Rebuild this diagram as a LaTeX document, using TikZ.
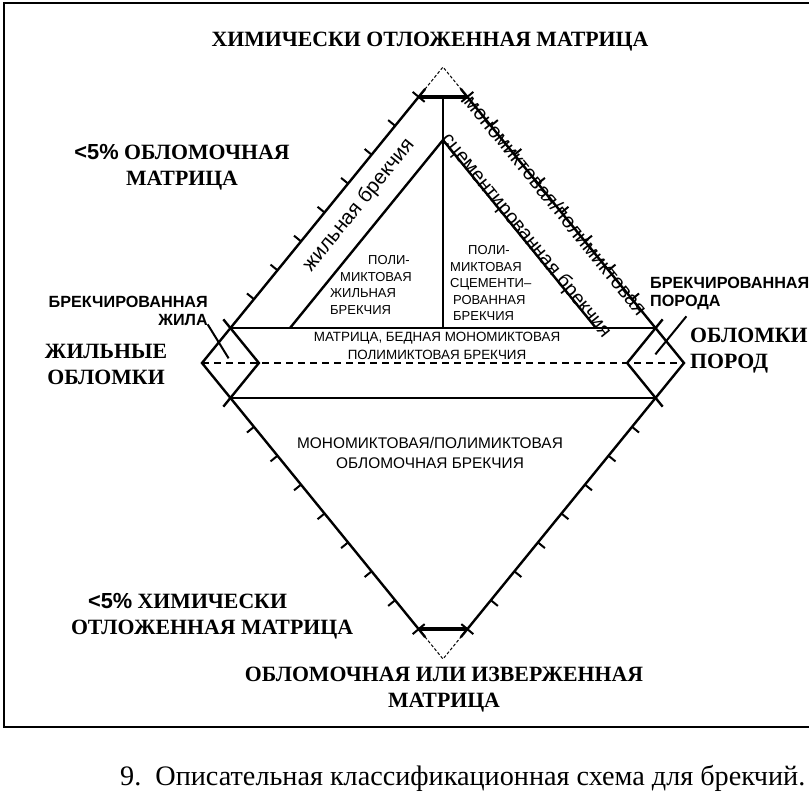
\documentclass[tikz,border=0pt]{standalone}
\usepackage{fontspec}
\setmainfont{Liberation Serif}
\setsansfont{Liberation Sans}
\usetikzlibrary{calc}
\tikzstyle{side}=[line width=2.4pt]
\tikzstyle{tk}=[line width=2pt]
\tikzstyle{apex}=[line width=1pt, dash pattern=on 3pt off 2pt]
\tikzstyle{big}=[font=\fontsize{21.8}{26}\selectfont\bfseries, align=center, inner sep=0]
\tikzstyle{lbl}=[font=\sffamily\bfseries\fontsize{16.2}{18}\selectfont, inner sep=0]
\tikzstyle{small}=[font=\sffamily\fontsize{13}{16.5}\selectfont, inner sep=0]
\tikzstyle{band}=[font=\sffamily\fontsize{20}{22}\selectfont, inner sep=0]

\begin{document}
\begin{tikzpicture}[x=1pt,y=-1pt]
\useasboundingbox (0,0) rectangle (809,804);
\draw[line width=1.2pt] (809,3)--(4,3)--(4,727)--(809,727);
% corners
\coordinate (T) at (443,67);
\coordinate (B) at (443,659);
\coordinate (L) at (202,363);
\coordinate (R) at (684,363);
\coordinate (tl) at ($(T)!0.101!(L)$);
\coordinate (tr) at ($(T)!0.101!(R)$);
\coordinate (bl) at ($(B)!0.101!(L)$);
\coordinate (br) at ($(B)!0.101!(R)$);
\coordinate (ul) at ($(T)!0.882!(L)$);
\coordinate (ur) at ($(T)!0.882!(R)$);
\coordinate (dl) at ($(B)!0.882!(L)$);
\coordinate (dr) at ($(B)!0.882!(R)$);
\coordinate (li) at ($(ul)+(dl)-(L)$);
\coordinate (ri) at ($(ur)+(dr)-(R)$);
\coordinate (m) at (443,140);
\coordinate (ml) at (290,328);
\coordinate (mr) at (596,328);
% outline
\draw[side] ($(tl)!-0.03!(L)$)--(L)--($(bl)!-0.03!(L)$);
\draw[side] ($(tr)!-0.03!(R)$)--(R)--($(br)!-0.03!(R)$);
\draw[apex] (tl)--(T)--(tr) (bl)--(B)--(br);
\draw[line width=3.4pt] (tl)--(tr) (bl)--(br);
\draw[side] ($(li)!1.25!(ul)$)--(li)--($(li)!1.25!(dl)$);
\draw[side] ($(ri)!1.25!(ur)$)--(ri)--($(ri)!1.25!(dr)$);
\draw[side] (ul)--(ur) (dl)--(dr);
\draw[side, dash pattern=on 7pt off 5pt] (L)--(R);
\draw[side] (443,97)--(443,328);
\draw[side] (ml)--(m)--(mr);
% ticks
\foreach \t in {1,...,7} {\draw[tk] ($(ul)!\t/8!(tl)$)--++(-7,-5.7);}
\foreach \t in {1,...,7} {\draw[tk] ($(ur)!\t/8!(tr)$)--++(7,-5.7);}
\foreach \t in {1,...,7} {\draw[tk] ($(dl)!\t/8!(bl)$)--++(-7,5.7);}
\foreach \t in {1,...,7} {\draw[tk] ($(dr)!\t/8!(br)$)--++(7,5.7);}
\draw[tk] ($(tl)+(-6,-5)$)--($(tl)+(6,5)$) ($(tr)+(6,-5)$)--($(tr)+(-6,5)$);
\draw[tk] ($(bl)+(-6,5)$)--($(bl)+(6,-5)$) ($(br)+(6,5)$)--($(br)+(-6,-5)$);
\draw[tk] ($(L)!0.62!(ul)+(-12,-17)$)--++(21,34);
\draw[tk] ($(R)!0.62!(ur)+(20,-25)$)--++(-31,38);
% labels
\node[big] (top) at (430,42) {ХИМИЧЕСКИ ОТЛОЖЕННАЯ МАТРИЦА};
\node[big] (clast) at (182,167) {{\sffamily<5\%} ОБЛОМОЧНАЯ\\МАТРИЦА};
\node[big] (vfrag) at (106,364) {ЖИЛЬНЫЕ\\ОБЛОМКИ};
\node[big, align=left, anchor=west] (rfrag) at (690,351) {ОБЛОМКИ\\ПОРОД};
\node[big, align=left] (chem) at (212,616) {\hspace{17pt}{\sffamily<5\%} ХИМИЧЕСКИ\\ОТЛОЖЕННАЯ МАТРИЦА};
\node[big] (bot) at (444,690) {ОБЛОМОЧНАЯ ИЛИ ИЗВЕРЖЕННАЯ\\МАТРИЦА};
\node[lbl, align=right, anchor=east] (bvein) at (208,311) {БРЕКЧИРОВАННАЯ\\ЖИЛА};
\node[lbl, align=left, anchor=west] (brock) at (650,293) {БРЕКЧИРОВАННАЯ\\ПОРОДА};
\node[band, rotate=50.86, font=\sffamily\fontsize{20.5}{22}\selectfont] (vein) at (359,205) {жильная брекчия};
\node[band, rotate=-50.86, font=\sffamily\fontsize{20.5}{22}\selectfont] (mono) at (556,205) {мономиктовая/полимиктовая};
\node[band, rotate=-50.86] (cem) at (526,236) {сцементированная брекчия};
\node[small, align=left, anchor=west] (pvb) at (330,285) {\hspace{38pt}ПОЛИ-\\\hspace{10pt}МИКТОВАЯ\\ЖИЛЬНАЯ\\БРЕКЧИЯ};
\node[small, align=left, anchor=west] (pcb) at (450,283) {\hspace{18pt}ПОЛИ-\\МИКТОВАЯ\\СЦЕМЕНТИ--\\\hspace{3pt}РОВАННАЯ\\\hspace{3pt}БРЕКЧИЯ};
\node[small, align=center, font=\sffamily\fontsize{13.4}{18}\selectfont] (poor) at (437,346) {МАТРИЦА, БЕДНАЯ МОНОМИКТОВАЯ\\ПОЛИМИКТОВАЯ БРЕКЧИЯ};
\node[small, align=center, font=\sffamily\fontsize{15.4}{20}\selectfont] (clbr) at (430,453) {МОНОМИКТОВАЯ/ПОЛИМИКТОВАЯ\\ОБЛОМОЧНАЯ БРЕКЧИЯ};
\node[anchor=west, inner sep=0, font=\fontsize{28.2}{30}\selectfont] (cap) at (120,778) {9.\ \ Описательная классификационная схема для брекчий.};
\end{tikzpicture}
\end{document}
